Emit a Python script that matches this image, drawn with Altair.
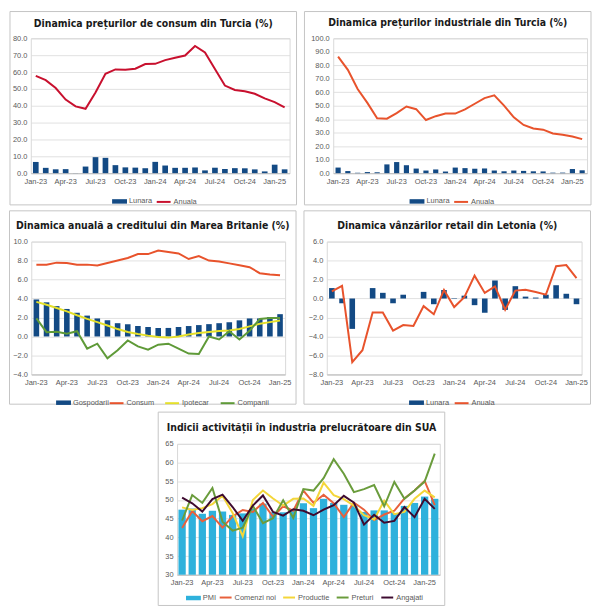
import altair as alt
import pandas as pd

# ---------------- data ----------------
months26 = ["Jan-23", "Feb-23", "Mar-23", "Apr-23", "May-23", "Jun-23", "Jul-23", "Aug-23",
            "Sep-23", "Oct-23", "Nov-23", "Dec-23", "Jan-24", "Feb-24", "Mar-24", "Apr-24",
            "May-24", "Jun-24", "Jul-24", "Aug-24", "Sep-24", "Oct-24", "Nov-24", "Dec-24",
            "Jan-25", "Feb-25"]
months25 = months26[:25]

tr_cpi_lunara = [6.65, 3.15, 2.29, 2.39, 0.04, 3.92, 9.49, 9.09, 4.75, 3.43, 3.28, 2.93, 6.70,
                 4.53, 3.16, 3.18, 3.37, 1.64, 3.23, 2.47, 2.97, 2.88, 2.24, 1.03, 5.03, 2.27]
tr_cpi_anuala = [57.68, 55.18, 50.51, 43.68, 39.59, 38.21, 47.83, 58.94, 61.53, 61.36, 61.98,
                 64.77, 64.86, 67.07, 68.50, 69.80, 75.45, 71.60, 61.78, 51.97, 49.38, 48.58,
                 47.09, 44.38, 42.12, 39.05]

tr_ppi_lunara = [4.15, 1.56, 0.29, 0.81, 0.65, 6.50, 8.23, 5.89, 3.40, 1.94, 2.74, 1.21, 4.14,
                 3.74, 3.29, 3.48, 1.96, 1.38, 1.94, 1.68, 1.37, 1.29, 0.37, 0.40, 3.06, 2.12]
tr_ppi_anuala = [86.46, 76.61, 62.43, 52.11, 40.76, 40.42, 44.50, 49.41, 47.44, 39.39, 42.25,
                 44.22, 44.20, 47.29, 51.47, 55.66, 57.68, 50.09, 41.37, 35.75, 33.09, 32.24,
                 29.47, 28.52, 27.20, 25.21]

uk_gospodarii = [3.9, 3.6, 3.2, 2.9, 2.5, 2.2, 1.9, 1.7, 1.4, 1.3, 1.1, 1.0, 0.9, 0.9, 1.0, 1.1,
                 1.2, 1.3, 1.4, 1.5, 1.7, 1.9, 1.9, 2.05, 2.35]
uk_consum = [7.57, 7.57, 7.78, 7.75, 7.57, 7.57, 7.47, 7.75, 8.0, 8.27, 8.68, 8.68, 9.06, 8.9,
             8.75, 8.16, 8.48, 8.0, 7.9, 7.7, 7.5, 7.3, 6.67, 6.53, 6.46]
uk_ipotecar = [3.65, 3.35, 3.0, 2.65, 2.24, 1.86, 1.51, 1.16, 0.78, 0.47, 0.26, 0.09, -0.05,
               -0.12, 0.0, 0.2, 0.37, 0.47, 0.57, 0.64, 0.78, 1.06, 1.34, 1.51, 1.68]
uk_companii = [1.9, 0.45, 0.5, 0.28, 0.55, -1.28, -0.76, -2.29, -1.46, -0.42, -1.04, -1.39,
               -0.87, -0.76, -1.28, -1.8, -1.84, 0.0, -0.31, 0.55, -0.31, 0.6, 1.84, 1.94, 1.94]

lv_lunara = [1.1, -0.5, -3.2, 0.0, 1.1, 0.6, -0.5, 0.4, 0.0, 0.7, -0.6, 0.9, -0.05, 0.3, -0.7,
             -1.5, 1.9, -1.2, 1.3, 0.2, 0.1, 0.4, 1.4, 0.5, -0.6]
lv_anuala = [0.76, 1.34, -6.7, -5.45, -1.48, -1.48, -3.38, -2.8, -2.9, -0.8, -1.66, 0.9, -0.9,
             0.14, 2.41, 0.59, 1.28, -1.17, 0.83, 0.93, 0.69, 0.41, 3.41, 3.52, 2.14]

us_pmi = [47.4, 47.7, 46.3, 47.1, 46.9, 46.0, 46.4, 47.6, 49.0, 46.7, 46.7, 47.4, 49.1, 47.8,
          50.3, 49.2, 48.7, 48.5, 46.8, 47.2, 47.2, 46.5, 48.4, 49.2, 50.9, 50.3]
us_comenzi = [42.5, 47.0, 44.3, 45.7, 42.6, 45.6, 47.3, 46.8, 49.2, 45.5, 48.3, 47.1, 52.5, 49.2,
              51.4, 49.1, 45.4, 49.3, 47.4, 44.6, 46.1, 47.1, 50.4, 52.5, 55.1, 48.6]
us_productie = [48.0, 47.3, 47.8, 48.9, 51.1, 46.5, 40.3, 50.0, 52.5, 50.4, 48.5, 50.3, 50.4,
                48.4, 54.6, 51.3, 50.2, 48.5, 45.9, 44.8, 49.8, 46.2, 46.8, 50.3, 52.5, 50.7]
us_preturi = [44.5, 51.3, 49.2, 53.2, 44.2, 41.8, 42.6, 48.4, 43.8, 45.1, 49.9, 45.2, 52.9, 52.5,
              55.8, 60.9, 57.0, 52.1, 52.9, 54.0, 48.3, 54.8, 50.3, 52.5, 54.9, 62.4]
us_angajati = [50.6, 49.1, 46.9, 50.2, 51.4, 48.1, 44.4, 48.5, 51.2, 46.8, 45.8, 47.5, 47.1, 45.9,
               47.4, 48.6, 51.1, 49.3, 43.4, 46.0, 43.9, 44.4, 48.1, 45.4, 50.3, 47.6]

# ---------------- styling ----------------
NAVY = "#134a84"
ORANGE = "#e8532c"
LABEL_FONT = "Liberation Sans"
TITLE_FONT = "Liberation Sans Narrow, DejaVu Sans Condensed, sans-serif"
LABEL_COLOR = "#595959"
LFS = 7.5
TFS = 10.5


def panel(title, months, bar_name, bar_vals, bar_color, line_names, line_vals, line_colors,
          ydom, yvals, yfmt, base, W, H, L, R, T, B, title_dy, pad,
          bar_lx, line_lx, leg_y, colpad, sym=196):
    n = len(months)
    df_bar = pd.DataFrame({"luna": months, "idx": list(range(n)), "val": bar_vals,
                           "serie": [bar_name] * n})
    rows = []
    for name, vals in zip(line_names, line_vals):
        for i, (m, v) in enumerate(zip(months, vals)):
            rows.append({"luna": m, "idx": i, "val": v, "serie": name})
    df_line = pd.DataFrame(rows)

    xenc = alt.X("luna:N", sort=months, title=None,
                 scale=alt.Scale(type="band", paddingInner=pad, paddingOuter=pad / 2),
                 axis=alt.Axis(values=months[::3], labelAngle=0, ticks=False, grid=False,
                               domainColor="#bfbfbf", labelPadding=4))
    yenc = alt.Y("val:Q", title=None,
                 scale=alt.Scale(domain=ydom, nice=False, zero=False),
                 axis=alt.Axis(values=yvals, format=yfmt, grid=True, domain=False,
                               ticks=False, labelPadding=4))

    frame = alt.Chart(pd.DataFrame({"a": [0]})).mark_rect(
        fillOpacity=0, stroke="#c4c4c4", strokeWidth=1
    ).encode(x=alt.value(-L), x2=alt.value(W + R), y=alt.value(-T), y2=alt.value(H + B))

    ttl = alt.Chart(pd.DataFrame({"t": [title]})).mark_text(
        font=TITLE_FONT, fontSize=TFS, fontWeight="bold", color="#1a1a1a",
        align="center", baseline="middle"
    ).encode(x=alt.value((W + R - L) / 2), y=alt.value(title_dy), text="t:N")

    bars = alt.Chart(df_bar).mark_bar(strokeWidth=0).encode(
        x=xenc, y=yenc, y2=alt.datum(base),
        color=alt.Color("serie:N",
                        scale=alt.Scale(domain=[bar_name], range=[bar_color]),
                        legend=alt.Legend(orient="none", legendX=bar_lx, legendY=leg_y,
                                          direction="horizontal", title=None,
                                          symbolType="M-1,-0.3H1V0.3H-1Z", symbolSize=225,
                                          symbolStrokeWidth=0, labelFontSize=LFS,
                                          labelColor=LABEL_COLOR, labelFont=LABEL_FONT,
                                          labelOffset=2))
    )

    lines = alt.Chart(df_line).mark_line(strokeWidth=2).encode(
        x=xenc, y=yenc, order=alt.Order("idx:Q"),
        color=alt.Color("serie:N",
                        scale=alt.Scale(domain=line_names, range=line_colors),
                        legend=alt.Legend(orient="none", legendX=line_lx, legendY=leg_y,
                                          direction="horizontal", title=None,
                                          symbolType="stroke", symbolSize=sym,
                                          symbolStrokeWidth=2, labelFontSize=LFS,
                                          labelColor=LABEL_COLOR, labelFont=LABEL_FONT,
                                          labelOffset=2, columnPadding=colpad))
    )

    return alt.layer(frame, ttl, bars, lines).resolve_scale(color="independent").properties(
        width=W, height=H)


p1 = panel("Dinamica prețurilor de consum din Turcia (%)", months26,
           "Lunara", tr_cpi_lunara, NAVY, ["Anuala"], [tr_cpi_anuala], ["#c8102e"],
           [0, 80], list(range(0, 81, 10)), ".1f", 0,
           261, 136, 21, 7, 27, 32, -14, 0.43, 82, 126, 157, 8)

p2 = panel("Dinamica prețurilor industriale din Turcia (%)", months26,
           "Lunara", tr_ppi_lunara, NAVY, ["Anuala"], [tr_ppi_anuala], [ORANGE],
           [0, 100], list(range(0, 101, 10)), ".1f", 0,
           256, 136, 29, 4, 27, 32, -15, 0.47, 77, 121, 157, 8)

p3 = panel("Dinamica anuală a creditului din Marea Britanie (%)", months25,
           "Gospodarii", uk_gospodarii, NAVY, ["Consum", "Ipotecar", "Companii"],
           [uk_consum, uk_ipotecar, uk_companii], [ORANGE, "#e5e02a", "#5f9a38"],
           [-4, 10], list(range(-4, 11, 2)), ".1f", 0,
           256, 134, 22, 11, 31, 30, -16, 0.45, 25, 78, 155, 7)

p4 = panel("Dinamica vânzărilor retail din Letonia (%)", months25,
           "Lunara", lv_lunara, NAVY, ["Anuala"], [lv_anuala], [ORANGE],
           [-8, 6], list(range(-8, 7, 2)), ".1f", 0,
           257, 134, 23, 9, 31, 30, -16, 0.45, 83, 128, 155, 8)

p5 = panel("Indicii activității în industria prelucrătoare din SUA", months26,
           "PMI", us_pmi, "#2eb1dc", ["Comenzi noi", "Productie", "Preturi", "Angajati"],
           [us_comenzi, us_productie, us_preturi, us_angajati],
           ["#e8603c", "#f4d63a", "#6a9c3c", "#3e0b30"],
           [30, 65], list(range(30, 66, 5)), "d", 30,
           265, 132, 19, 5, 32, 31, -16, 0.28, 9, 42, 148, 3, sym=144)

chart = alt.vconcat(
    alt.hconcat(p1, p2, spacing=6),
    alt.hconcat(p3, p4, spacing=6),
    p5,
    spacing=3, center=True
).properties(padding=0, background="white").configure_view(
    stroke="#d9d9d9", strokeWidth=1
).configure_axis(
    labelFont=LABEL_FONT, labelFontSize=LFS, labelColor=LABEL_COLOR,
    gridColor="#d9d9d9", gridWidth=0.8
)

chart.save("out.html", embed_options={"renderer": "svg", "actions": False})
